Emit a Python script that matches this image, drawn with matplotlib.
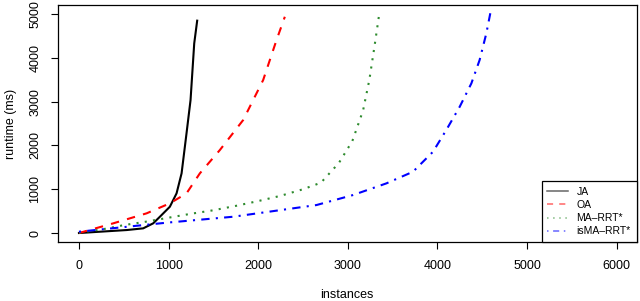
import matplotlib
matplotlib.use("Agg")
import matplotlib.pyplot as plt

plt.rcParams['font.family'] = ['Liberation Sans', 'DejaVu Sans']

# ---------- DATA ----------
ja_x = [0, 234, 532, 717, 828, 903, 1014, 1089, 1145, 1200, 1245, 1286, 1319]
ja_y = [0, 30, 68, 107, 221, 372, 600, 906, 1363, 2276, 3037, 4330, 4850]

oa_x = [0, 382, 755, 1014, 1200, 1349, 1572, 1832, 2055, 2204, 2297]
oa_y = [0, 221, 450, 678, 906, 1363, 1895, 2580, 3493, 4406, 4939]

ma_x = [0, 250, 500, 750, 1000, 1250, 1500, 1750, 2000, 2250, 2500, 2700,
        2900, 3050, 3170, 3240, 3300, 3350]
ma_y = [10, 80, 180, 260, 350, 440, 520, 620, 730, 850, 1000, 1150,
        1600, 2100, 2800, 3500, 4300, 5000]

isma_x = [0, 977, 1720, 2650, 3058, 3430, 3727, 3950, 4098, 4248, 4378,
          4470, 4545, 4600]
isma_y = [30, 236, 372, 639, 868, 1134, 1400, 1856, 2352, 2884, 3417,
          3950, 4559, 5130]

x_ticks = [0, 1000, 2000, 3000, 4000, 5000, 6000]
y_ticks = [0, 1000, 2000, 3000, 4000, 5000]

# ---------- PLOT ----------
fig = plt.figure(figsize=(6.4, 3.01), dpi=100)
ax = fig.add_axes([0.0906, 0.196, 0.904, 0.787])

ax.plot(ja_x, ja_y, color='black', lw=1.5, ls='-', label='JA')
ax.plot(oa_x, oa_y, color='red', lw=1.5, ls=(0, (4, 4)), label='OA')
ax.plot(ma_x, ma_y, color='#2e8b2e', lw=1.5, ls=(0, (1, 3)), label='MA–RRT*')
ax.plot(isma_x, isma_y, color='blue', lw=1.5, ls=(0, (1, 3, 4, 3)), label='isMA–RRT*')

ax.set_xlim(-234, 6221)
ax.set_ylim(-205, 5205)
ax.set_xticks(x_ticks)
ax.set_yticks(y_ticks)
ax.set_yticklabels([str(v) for v in y_ticks], rotation=90, va='center')
ax.tick_params(direction='out', length=5, width=0.8, labelsize=9)
ax.tick_params(axis='x', pad=8)
ax.tick_params(axis='y', pad=7)
for s in ax.spines.values():
    s.set_linewidth(0.9)

ax.set_xlabel('instances', fontsize=9, labelpad=12)
ax.set_ylabel('runtime (ms)', fontsize=9, labelpad=9)

leg = ax.legend(loc='lower right', fontsize=7.5, borderaxespad=0,
                fancybox=False, edgecolor='black', framealpha=1,
                handlelength=2.0, labelspacing=0.3, borderpad=0.55)
leg.get_frame().set_linewidth(0.9)
for h in leg.get_lines():
    h.set_linewidth(1.1)
    h.set_alpha(0.6)

plt.savefig('out.png', dpi=100)
